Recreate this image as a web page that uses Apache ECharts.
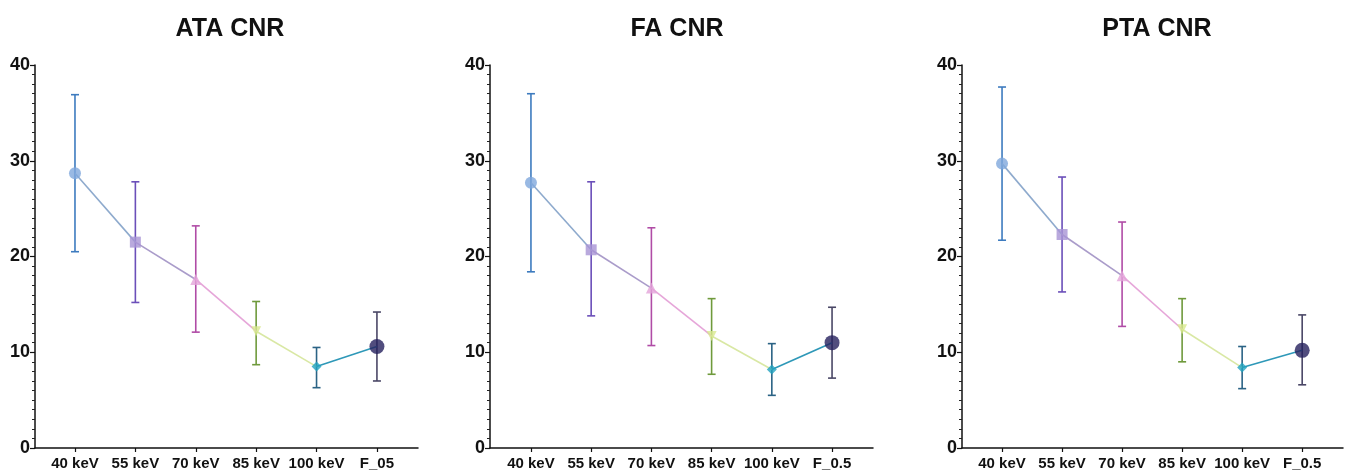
<!DOCTYPE html>
<html>
<head>
<meta charset="utf-8">
<script src="https://cdn.jsdelivr.net/npm/echarts@6/dist/echarts.min.js"></script>
<style>
html,body{margin:0;padding:0;background:#fff;}
#main{width:1346px;height:472px;}
</style>
</head>
<body>
<div id="main"></div>
<script>
// ---- data ----
const titles = ['ATA CNR', 'FA CNR', 'PTA CNR'];
const categoriesATA = ['40 keV', '55 keV', '70 keV', '85 keV', '100 keV', 'F_05'];
const categoriesFA = ['40 keV', '55 keV', '70 keV', '85 keV', '100 keV', 'F_0.5'];
const categoriesPTA = ['40 keV', '55 keV', '70 keV', '85 keV', '100 keV', 'F_0.5'];

const ataMean  = [28.7, 21.5, 17.6, 12.2, 8.5, 10.6];
const ataUpper = [36.9, 27.8, 23.2, 15.3, 10.5, 14.2];
const ataLower = [20.5, 15.2, 12.1, 8.7, 6.3, 7.0];

const faMean  = [27.7, 20.7, 16.7, 11.7, 8.2, 11.0];
const faUpper = [37.0, 27.8, 23.0, 15.6, 10.9, 14.7];
const faLower = [18.4, 13.8, 10.7, 7.7, 5.5, 7.3];

const ptaMean  = [29.7, 22.3, 18.0, 12.4, 8.4, 10.2];
const ptaUpper = [37.7, 28.3, 23.6, 15.6, 10.6, 13.9];
const ptaLower = [21.7, 16.3, 12.7, 9.0, 6.2, 6.6];

const yTicks = [0, 10, 20, 30, 40];

// ---- styles ----
const markerColors = ['#7fa8dc', '#a893d4', '#e3a4da', '#d8e88e', '#22a2bf', '#26215e'];
const markerSymbols = ['circle', 'rect', 'triangle', 'path://M0,0 L10,0 L5,9 Z', 'diamond', 'circle'];
const markerSizes = [12, 11, 11, 10, 10, 15];
const errColors = ['#3d7bbf', '#6b4fb9', '#b04ca6', '#6f9a3c', '#2b6385', '#4a4766'];
const segColors = ['#8eaacd', '#aa9cca', '#e6a6d9', '#d9e8a4', '#2e98b8'];

const grids = [
  {left: 35, width: 383, xmin: -0.662, xmax: 5.68, titleX: 225},
  {left: 490, width: 383, xmin: -0.68, xmax: 5.68, titleX: 672},
  {left: 962, width: 381, xmin: -0.667, xmax: 5.68, titleX: 1152}
];
const panels = [
  {cats: categoriesATA, mean: ataMean, up: ataUpper, lo: ataLower},
  {cats: categoriesFA, mean: faMean, up: faUpper, lo: faLower},
  {cats: categoriesPTA, mean: ptaMean, up: ptaUpper, lo: ptaLower}
];

const FONT = '"Liberation Sans", Arial, sans-serif';
const option = {
  animation: false,
  backgroundColor: '#fff',
  title: [], grid: [], xAxis: [], yAxis: [], series: []
};

panels.forEach((p, k) => {
  const g = grids[k];
  option.title.push({
    text: titles[k], left: g.titleX, top: 12, textAlign: 'center',
    textStyle: {fontFamily: FONT, fontWeight: 'bold', fontSize: 25, color: '#111'}
  });
  option.grid.push({left: g.left, width: g.width, top: 65, bottom: 24});
  option.xAxis.push({
    type: 'value', gridIndex: k, min: g.xmin, max: g.xmax,
    splitLine: {show: false},
    axisLine: {show: true, onZero: false, lineStyle: {color: '#111', width: 1.5}},
    axisTick: {show: true, customValues: [0, 1, 2, 3, 4, 5], length: 4, lineStyle: {color: '#111', width: 1.2}},
    axisLabel: {
      customValues: [0, 1, 2, 3, 4, 5], margin: 8,
      formatter: (v) => p.cats[Math.round(v)],
      fontFamily: FONT, fontWeight: 'bold', fontSize: 15, color: '#111'
    }
  });
  option.yAxis.push({
    type: 'value', gridIndex: k, min: 0, max: 40, interval: 10,
    splitLine: {show: false},
    axisLine: {show: true, onZero: false, lineStyle: {color: '#111', width: 1.5}},
    axisTick: {show: true, length: 5, lineStyle: {color: '#111', width: 1.2}},
    minorTick: {show: true, splitNumber: 10, length: 3, lineStyle: {color: '#222', width: 1}},
    axisLabel: {margin: 5, fontFamily: FONT, fontWeight: 'bold', fontSize: 18, color: '#111',
      formatter: (v) => yTicks.includes(v) ? String(v) : ''}
  });
  // error bars
  option.series.push({
    type: 'custom', xAxisIndex: k, yAxisIndex: k, z: 2,
    data: p.mean.map((m, i) => [i, p.lo[i], p.up[i]]),
    encode: {x: 0, y: [1, 2]},
    renderItem: (params, api) => {
      const x = api.value(0);
      const a = api.coord([x, api.value(1)]);
      const b = api.coord([x, api.value(2)]);
      const st = {stroke: errColors[params.dataIndex], lineWidth: 1.6};
      const cap = 4;
      return {type: 'group', children: [
        {type: 'line', shape: {x1: a[0], y1: a[1], x2: b[0], y2: b[1]}, style: st},
        {type: 'line', shape: {x1: a[0] - cap, y1: a[1], x2: a[0] + cap, y2: a[1]}, style: st},
        {type: 'line', shape: {x1: b[0] - cap, y1: b[1], x2: b[0] + cap, y2: b[1]}, style: st}
      ]};
    }
  });
  // connecting segments
  option.series.push({
    type: 'custom', xAxisIndex: k, yAxisIndex: k, z: 3,
    data: p.mean.slice(0, -1).map((m, i) => [i, m, p.mean[i + 1]]),
    encode: {x: 0, y: [1, 2]},
    renderItem: (params, api) => {
      const x = api.value(0);
      const a = api.coord([x, api.value(1)]);
      const b = api.coord([x + 1, api.value(2)]);
      return {type: 'line', shape: {x1: a[0], y1: a[1], x2: b[0], y2: b[1]},
        style: {stroke: segColors[params.dataIndex], lineWidth: 1.6}};
    }
  });
  // markers
  option.series.push({
    type: 'scatter', xAxisIndex: k, yAxisIndex: k, z: 4,
    data: p.mean.map((m, i) => ({
      value: [i, m], symbol: markerSymbols[i], symbolSize: markerSizes[i],
      itemStyle: {color: markerColors[i]}
    }))
  });
});

const chart = echarts.init(document.getElementById('main'), null, {renderer: 'canvas'});
chart.setOption(option);
</script>
</body>
</html>
